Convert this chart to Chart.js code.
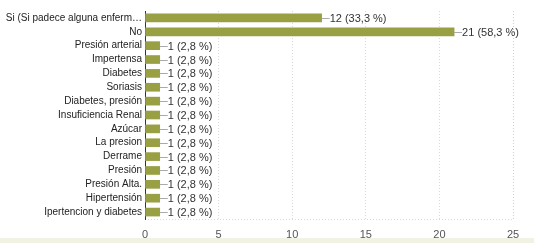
<!DOCTYPE html>
<html>
<head>
<meta charset="utf-8">
<script src="https://cdn.jsdelivr.net/npm/chart.js@4.4.1/dist/chart.umd.min.js"></script>
<style>
  html, body { margin: 0; padding: 0; background: #fff; }
  #wrap { position: relative; width: 534px; height: 243px; }
  #strip { position: absolute; left: 0; right: 0; bottom: 0; height: 5px; background: #f1f1e4; }
</style>
</head>
<body>
<div id="wrap">
  <canvas id="c" width="534" height="243"></canvas>
  <div id="strip"></div>
</div>
<script>
// respuestas
const categories = [
  'Si (Si padece alguna enferm\u2026', 'No', 'Presión arterial', 'Impertensa', 'Diabetes',
  'Soriasis', 'Diabetes, presión', 'Insuficiencia Renal', 'Azúcar', 'La presion',
  'Derrame', 'Presión', 'Presión Alta.', 'Hipertensión', 'Ipertencion y diabetes'
];
const counts = [12, 21, 1, 1, 1, 1, 1, 1, 1, 1, 1, 1, 1, 1, 1];
const percents = ['33,3', '58,3', '2,8', '2,8', '2,8', '2,8', '2,8', '2,8', '2,8', '2,8', '2,8', '2,8', '2,8', '2,8', '2,8'];
const xTicks = [0, 5, 10, 15, 20, 25];

const FAMILY = 'Arial, "Liberation Sans", sans-serif';

// etiqueta con línea guía al final de cada barra
const valueLabels = {
  id: 'valueLabels',
  afterDatasetsDraw(chart) {
    const { ctx } = chart;
    const meta = chart.getDatasetMeta(0);
    ctx.save();
    ctx.font = `11px ${FAMILY}`;
    ctx.textBaseline = 'middle';
    meta.data.forEach((bar, i) => {
      const x = bar.x, y = Math.round(bar.y) + 0.5;
      ctx.strokeStyle = '#aaaaaa';
      ctx.lineWidth = 1;
      ctx.beginPath();
      ctx.moveTo(x, y);
      ctx.lineTo(x + 8, y);
      ctx.stroke();
      ctx.fillStyle = '#333';
      ctx.fillText(`${counts[i]} (${percents[i]} %)`, x + 8, y + 0.5);
    });
    ctx.restore();
  }
};

new Chart(document.getElementById('c'), {
  type: 'bar',
  data: {
    labels: categories,
    datasets: [{
      data: counts,
      backgroundColor: '#99a043',
      borderWidth: 0,
      barThickness: 8,
    }]
  },
  options: {
    indexAxis: 'y',
    responsive: false,
    animation: false,
    layout: { padding: { top: 11, right: 21, bottom: 0, left: 0 } },
    plugins: { legend: { display: false }, tooltip: { enabled: false } },
    scales: {
      x: {
        min: 0,
        max: 25,
        afterBuildTicks(axis) { axis.ticks = xTicks.map(v => ({ value: v })); },
        afterFit(axis) { axis.height = 24; },
        grid: {
          color: ctx => ctx.tick && ctx.tick.value === 25 ? '#eebfca' : '#d8d8d8',
          lineWidth: 1,
          drawTicks: false,
        },
        border: { display: false, dash: [1, 2] },
        ticks: { color: '#555', font: { family: FAMILY, size: 11 }, padding: 9 },
      },
      y: {
        afterFit(axis) { axis.width = 145; },
        grid: { display: false, drawTicks: false },
        border: { display: true, color: '#333', width: 1 },
        ticks: { color: '#222', font: { family: FAMILY, size: 10 }, padding: 3, autoSkip: false },
      }
    }
  },
  plugins: [valueLabels, {
    id: 'dots',
    beforeDraw(chart) {
      // línea inferior punteada
      const { ctx, chartArea: { left, right, bottom } } = chart;
      ctx.save();
      ctx.strokeStyle = '#d8d8d8';
      ctx.setLineDash([1, 2]);
      ctx.beginPath();
      ctx.moveTo(left, bottom + 0.5);
      ctx.lineTo(right, bottom + 0.5);
      ctx.stroke();
      ctx.restore();
    }
  }]
});
</script>
</body>
</html>
